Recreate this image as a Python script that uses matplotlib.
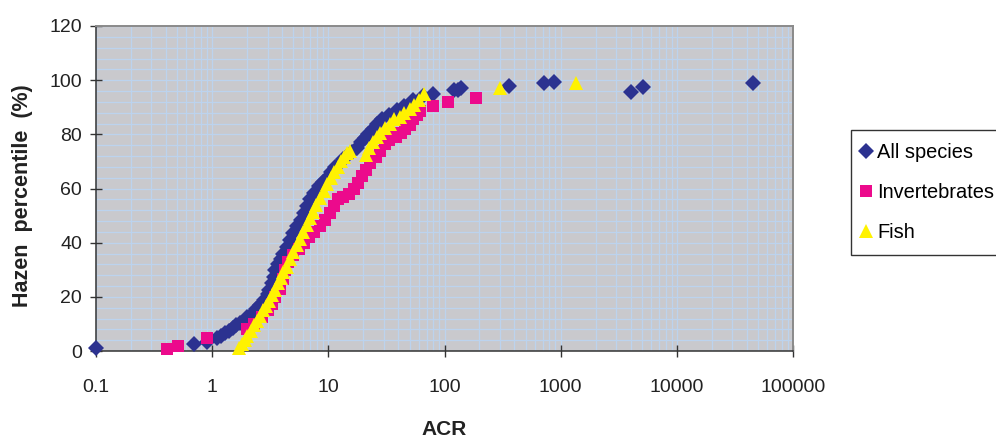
import matplotlib
matplotlib.use("Agg")
import matplotlib.pyplot as plt
from matplotlib import ticker
from matplotlib.lines import Line2D

plt.rcParams['font.family'] = ['Liberation Sans', 'DejaVu Sans']

# ACR values and Hazen percentiles per group
all_acr = [0.1, 0.7, 0.9, 1.1, 1.2, 1.3, 1.4, 1.5, 1.6, 1.75, 1.9, 2.0, 2.2,
           2.4, 2.6, 2.8, 3.0, 3.1, 3.3, 3.4, 3.5, 3.7, 3.9, 4.1, 4.4, 4.7,
           5.0, 5.4, 5.8, 6.2, 6.6, 7.0, 7.6, 8.3, 9.0, 9.8, 10.5, 11.5, 12.5,
           13.5, 14.6, 16.0, 17.5, 19.0, 20.5, 22.0, 24.0, 26.0, 29.0, 33.0,
           39.0, 45.0, 54.0, 65.0, 80.0, 120.0, 130.0, 140.0, 360.0, 720.0,
           880.0, 4000.0, 5100.0, 45000.0]
all_pct = [1.0, 2.6, 3.5, 4.8, 5.5, 6.5, 7.5, 8.5, 9.5, 10.2, 11.5, 12.6, 13.8,
           15.5, 17.0, 19.0, 21.0, 22.5, 25.0, 27.5, 30.0, 32.0, 34.0, 36.0,
           38.5, 41.0, 43.5, 46.0, 48.5, 51.0, 53.5, 56.0, 58.5, 61.0, 62.5,
           64.0, 66.0, 68.0, 69.5, 71.0, 72.0, 73.5, 75.0, 77.0, 78.5, 80.0,
           82.0, 84.0, 85.5, 87.0, 89.0, 90.5, 92.5, 94.0, 95.0, 96.2, 96.5,
           97.0, 98.0, 99.0, 99.5, 95.8, 97.4, 99.0]

inv_acr = [0.41, 0.51, 0.9, 2.0, 2.3, 2.7, 3.0, 3.3, 3.5, 3.8, 4.1, 4.2, 4.5,
           5.0, 5.6, 6.2, 6.8, 7.6, 8.5, 9.4, 10.3, 11.2, 12.0, 13.5, 15.0,
           16.5, 18.0, 19.5, 21.0, 23.0, 25.5, 28.0, 30.5, 33.0, 38.0, 42.0,
           46.0, 50.0, 54.0, 58.0, 62.0, 80.0, 108.0, 185.0]
inv_pct = [0.6, 1.8, 4.8, 8.0, 10.0, 12.5, 15.0, 17.5, 20.0, 23.0, 26.5, 30.0,
           33.0, 35.5, 37.5, 40.0, 42.0, 44.0, 46.0, 48.5, 51.0, 53.5, 56.0,
           57.0, 58.0, 60.0, 62.0, 64.5, 67.0, 69.5, 71.5, 74.0, 76.5, 78.0,
           79.0, 80.5, 82.0, 83.5, 85.5, 87.0, 88.5, 90.5, 92.0, 93.5]

fish_acr = [1.7, 1.8, 1.9, 2.0, 2.15, 2.3, 2.45, 2.6, 2.75, 2.9, 3.1, 3.3, 3.5,
            3.7, 3.9, 4.1, 4.4, 4.7, 5.0, 5.4, 5.7, 6.1, 6.5, 6.9, 7.4, 7.9,
            8.5, 9.1, 9.8, 10.5, 11.3, 12.0, 12.8, 13.7, 14.6, 15.5, 21.0,
            22.5, 24.0, 26.0, 28.0, 31.0, 34.0, 37.0, 41.0, 45.0, 50.0, 55.0,
            60.0, 66.0, 300.0, 1360.0]
fish_pct = [1.0, 2.5, 4.0, 5.5, 7.5, 9.5, 11.0, 13.0, 15.0, 16.5, 18.5, 20.5,
            22.5, 25.0, 27.0, 29.0, 31.0, 34.0, 36.5, 39.0, 41.5, 44.0, 46.5,
            49.0, 51.5, 54.0, 56.5, 59.0, 61.5, 64.0, 66.0, 68.0, 70.0, 71.5,
            73.0, 74.0, 72.5, 75.0, 77.0, 79.0, 80.5, 82.5, 84.0, 85.5, 86.5,
            88.0, 89.5, 91.0, 92.5, 95.0, 97.0, 99.0]

x_ticks = [0.1, 1, 10, 100, 1000, 10000, 100000]
y_ticks = [0, 20, 40, 60, 80, 100, 120]

NAVY = '#2C3290'
PINK = '#EC0A8C'
YELLOW = '#FFF200'

series = [
    ("All species", all_acr, all_pct, 'D', NAVY, 8.6),
    ("Invertebrates", inv_acr, inv_pct, 's', PINK, 9.0),
    ("Fish", fish_acr, fish_pct, '^', YELLOW, 10.0),
]

fig = plt.figure(figsize=(9.96, 4.38), dpi=100)
ax = fig.add_axes([96 / 996, 87 / 438, 697 / 996, 325 / 438])
ax.set_facecolor('#C9C9CD')

handles = []
for name, xs, ys, mk, col, ms in series:
    ax.plot(xs, ys, linestyle='none', marker=mk, markersize=ms,
            color=col, markeredgewidth=0, clip_on=False, zorder=3)
    handles.append(Line2D([], [], linestyle='none', marker=mk,
                          markersize=ms, color=col, markeredgewidth=0))

ax.set_xscale('log')
ax.set_xlim(0.1, 100000)
ax.set_ylim(0, 120)
ax.xaxis.set_major_locator(ticker.FixedLocator(x_ticks))
ax.xaxis.set_major_formatter(ticker.FuncFormatter(lambda v, p: '%g' % v))
ax.xaxis.set_minor_locator(ticker.LogLocator(base=10, subs=range(2, 10), numticks=20))
ax.xaxis.set_minor_formatter(ticker.NullFormatter())
ax.yaxis.set_major_locator(ticker.FixedLocator(y_ticks))
ax.yaxis.set_minor_locator(ticker.MultipleLocator(4))

ax.grid(True, which='both', color='#BCD3EE', linewidth=0.9, zorder=0)
ax.set_axisbelow(True)

ax.tick_params(which='major', direction='inout', length=8, width=1,
               color='#333333', labelsize=14, labelcolor='#222222')
ax.tick_params(axis='x', which='major', pad=16)
ax.tick_params(axis='y', which='major', pad=6)
ax.tick_params(which='minor', length=0)

for side in ['left', 'bottom']:
    ax.spines[side].set_color('#333333')
    ax.spines[side].set_linewidth(1.1)
for side in ['top', 'right']:
    ax.spines[side].set_color('#8A8A8A')
    ax.spines[side].set_linewidth(1.4)

ax.set_ylabel("Hazen  percentile  (%)", fontsize=15.5, fontweight='bold',
              color='#222222')
ax.yaxis.set_label_coords(-0.090, 0.477)
ax.set_xlabel("ACR", fontsize=15, fontweight='bold', color='#222222')
ax.xaxis.set_label_coords(0.5, -0.212)

leg = fig.legend(handles, [s[0] for s in series], loc='upper left',
                 bbox_to_anchor=(851 / 996, 1 - 130 / 438),
                 bbox_transform=fig.transFigure, fontsize=14.4,
                 frameon=True, fancybox=False, edgecolor='black',
                 borderpad=0.65, handlelength=0.2, handletextpad=0.45,
                 labelspacing=1.06, borderaxespad=0)
leg.get_frame().set_linewidth(1.0)

fig.savefig('out.png', dpi=100)
